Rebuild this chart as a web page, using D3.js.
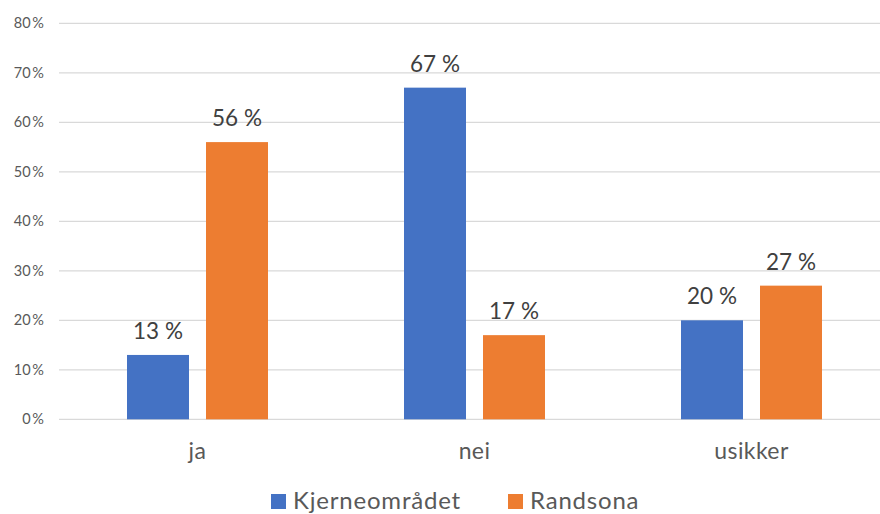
<!DOCTYPE html>
<html>
<head>
<meta charset="utf-8">
<script src="https://cdn.jsdelivr.net/npm/d3@7/dist/d3.min.js"></script>
<style>
  html, body { margin: 0; padding: 0; background: #fff; }
  svg { display: block; font-family: Lato, "Open Sans", sans-serif; }
</style>
</head>
<body>
<svg id="chart" width="880" height="514"></svg>
<script>
// Answers per area (share of respondents, %)
const categories = ["ja", "nei", "usikker"];
const seriesNames = ["Kjerneområdet", "Randsona"];
const kjerneomradet = [13, 67, 20];
const randsona = [56, 17, 27];
const yTicks = [0, 10, 20, 30, 40, 50, 60, 70, 80];
const colors = ["#4472C4", "#ED7D31"];

const svg = d3.select("#chart");
const W = 880, H = 514;
const plot = { left: 59, right: 890, top: 23.3, bottom: 419.3 };

const x = d3.scaleBand().domain(categories).range([plot.left, plot.right]).paddingInner(0).paddingOuter(0);
const y = d3.scaleLinear().domain([0, 80]).range([plot.bottom, plot.top]);

// Two bars per category, centred in the band
const barW = 62, barGap = 17;
const xs = d3.scaleBand().domain(seriesNames)
  .range([-(barW + barGap / 2), barW + barGap / 2])
  .paddingInner(barGap / (barW + barGap))
  .paddingOuter(0);

// Gridlines
svg.append("g").selectAll("line").data(yTicks).join("line")
  .attr("x1", plot.left).attr("x2", W)
  .attr("y1", d => y(d)).attr("y2", d => y(d))
  .attr("stroke", "#d9d9d9").attr("stroke-width", 1.3);

// Y tick labels
svg.append("g").selectAll("text").data(yTicks).join("text")
  .attr("x", 44).attr("y", d => y(d)).attr("dy", "0.35em")
  .attr("text-anchor", "end")
  .attr("font-size", 14.5).attr("fill", "#595959")
  .text(d => d + "\u2009%");

const rows = categories.map((c, i) => ({ cat: c, vals: [kjerneomradet[i], randsona[i]] }));

const groups = svg.append("g").selectAll("g").data(rows).join("g")
  .attr("transform", d => `translate(${x(d.cat) + x.bandwidth() / 2},0)`);

const bars = groups.selectAll("g.bar").data(d => d.vals.map((v, i) => ({ v, s: seriesNames[i], i })))
  .join("g").attr("class", "bar");

bars.append("rect")
  .attr("x", d => xs(d.s))
  .attr("width", xs.bandwidth())
  .attr("y", d => y(d.v))
  .attr("height", d => y(0) - y(d.v))
  .attr("fill", d => colors[d.i]);

bars.append("text")
  .attr("x", d => xs(d.s) + xs.bandwidth() / 2)
  .attr("y", d => y(d.v) - 16)
  .attr("text-anchor", "middle")
  .attr("font-size", 22.5).attr("fill", "#404040")
  .text(d => d.v + " %");

// Category labels
svg.append("g").selectAll("text").data(categories).join("text")
  .attr("x", d => x(d) + x.bandwidth() / 2)
  .attr("y", 459)
  .attr("text-anchor", "middle")
  .attr("font-size", 23).attr("letter-spacing", 0.4).attr("fill", "#595959")
  .text(d => d);

// Legend
const legendX = [271, 508];
const legend = svg.append("g").selectAll("g").data(seriesNames).join("g")
  .attr("transform", (d, i) => `translate(${legendX[i]},494)`);
legend.append("rect").attr("width", 15).attr("height", 15)
  .attr("fill", (d, i) => colors[i]);
legend.append("text").attr("x", 22).attr("y", 15)
  .attr("font-size", 24).attr("letter-spacing", 0.8).attr("fill", "#595959")
  .text(d => d);
</script>
</body>
</html>
